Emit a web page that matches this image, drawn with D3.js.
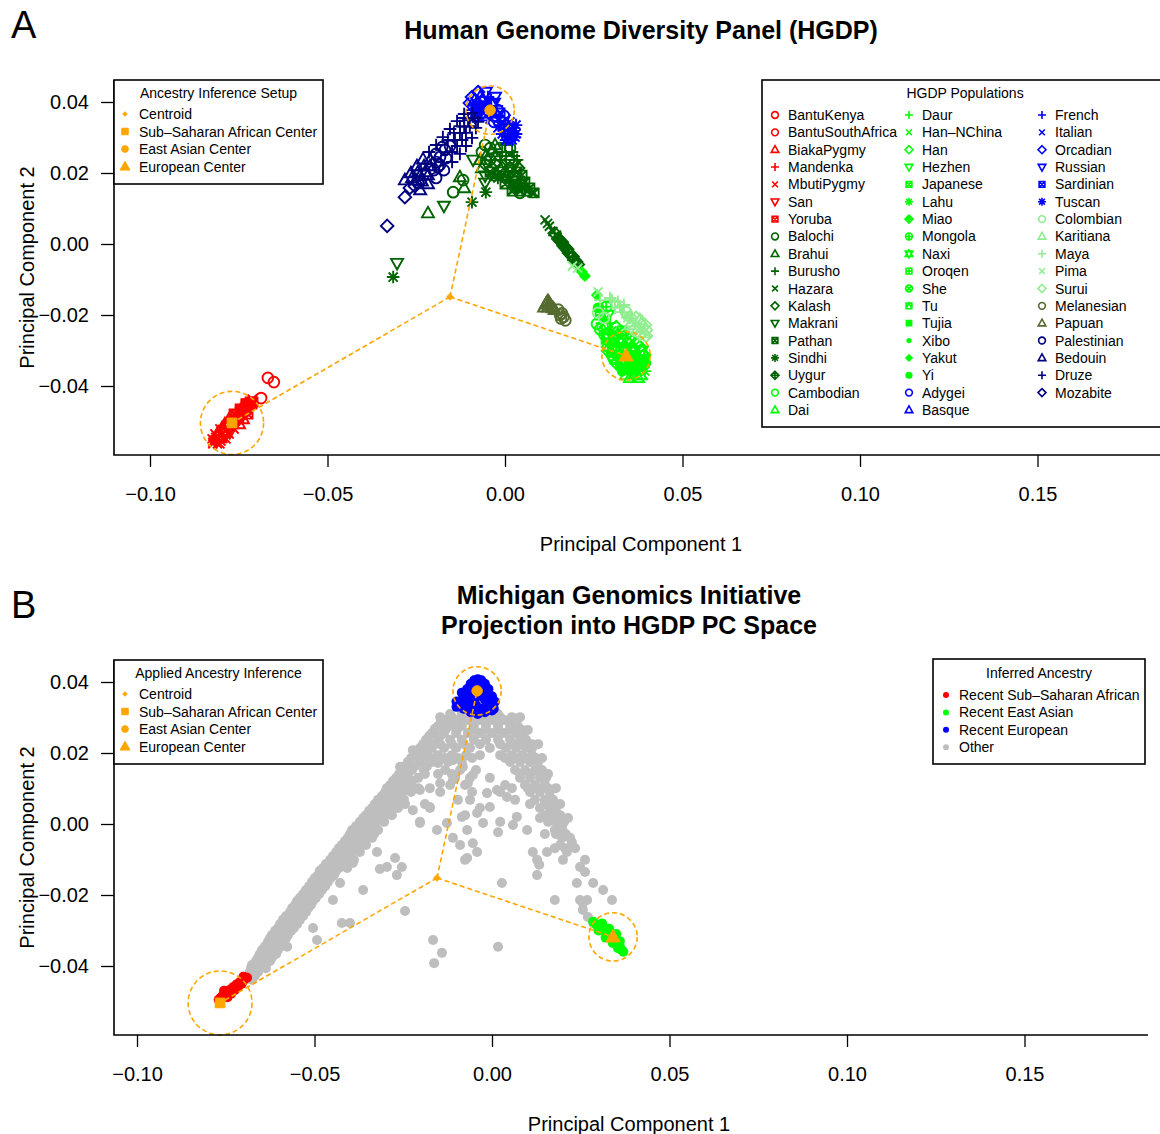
<!DOCTYPE html>
<html><head><meta charset="utf-8">
<script src="https://cdn.jsdelivr.net/npm/d3@7"></script>
<style>body{margin:0;background:#fff}svg{display:block}text{font-family:"Liberation Sans",Arial,Helvetica,sans-serif}</style>
</head><body><svg id="c" width="1160" height="1134"></svg>
<script>
// ---------------- DATA ----------------
const xTicks = [-0.10, -0.05, 0.00, 0.05, 0.10, 0.15];
const yTicks = [-0.04, -0.02, 0.00, 0.02, 0.04];

// HGDP populations (legend order)
const popNames = ["BantuKenya","BantuSouthAfrica","BiakaPygmy","Mandenka","MbutiPygmy","San","Yoruba","Balochi","Brahui","Burusho","Hazara","Kalash","Makrani","Pathan","Sindhi","Uygur","Cambodian","Dai",
"Daur","Han\u2013NChina","Han","Hezhen","Japanese","Lahu","Miao","Mongola","Naxi","Oroqen","She","Tu","Tujia","Xibo","Yakut","Yi","Adygei","Basque",
"French","Italian","Orcadian","Russian","Sardinian","Tuscan","Colombian","Karitiana","Maya","Pima","Surui","Melanesian","Papuan","Palestinian","Bedouin","Druze","Mozabite"];

// PC1, PC2 per population, grouped by region
const africa = {
 "BantuKenya":[[-0.0668,-0.0377],[-0.0651,-0.0389],[-0.0687,-0.0434]],
 "BantuSouthAfrica":[[-0.0752,-0.0490],[-0.0740,-0.0480],[-0.0760,-0.0500],[-0.0730,-0.0470]],
 "BiakaPygmy":[[-0.0797,-0.0518],[-0.0789,-0.0510],[-0.0808,-0.0530],[-0.0780,-0.0505],[-0.0800,-0.0540],[-0.0790,-0.0525],
   [-0.0777,-0.0493],[-0.0758,-0.0493],[-0.0738,-0.0493],[-0.0789,-0.0507],[-0.0769,-0.0507],[-0.0749,-0.0507]],
 "Mandenka":[[-0.0746,-0.0468],[-0.0732,-0.0462],[-0.0738,-0.0475],[-0.0718,-0.0450],[-0.0725,-0.0455],[-0.0745,-0.0480]],
 "MbutiPygmy":[[-0.0817,-0.0552],[-0.0808,-0.0546],[-0.0823,-0.0558],[-0.0810,-0.0563],[-0.0800,-0.0555],[-0.0815,-0.0545],[-0.0795,-0.0548],[-0.0712,-0.0437],
   [-0.0803,-0.0521],[-0.0783,-0.0521],[-0.0763,-0.0521],[-0.0817,-0.0535],[-0.0797,-0.0535],[-0.0777,-0.0535],[-0.0825,-0.0549],[-0.0806,-0.0549],[-0.0786,-0.0549],[-0.0823,-0.0563],[-0.0803,-0.0563]],
 "San":[[-0.0775,-0.0530],[-0.0789,-0.0541],[-0.0785,-0.0535]],
 "Yoruba":[[-0.0746,-0.0473],[-0.0732,-0.0462],[-0.0724,-0.0454],[-0.0758,-0.0482],[-0.0738,-0.0470],[-0.0718,-0.0445],[-0.0710,-0.0445],[-0.0728,-0.0450],[-0.0750,-0.0490],[-0.0762,-0.0495],
   [-0.0730,-0.0451],[-0.0713,-0.0451],[-0.0746,-0.0465],[-0.0727,-0.0465],[-0.0763,-0.0479],[-0.0744,-0.0479],[-0.0724,-0.0479]]
};
const centralSouthAsia = {
 "Balochi":[[-0.0146,0.0146],[-0.0118,0.0180],[0.0042,0.0144],[-0.0056,0.0279],[-0.0065,0.0259],[-0.0042,0.0237],[0.0014,0.0214],[0.0028,0.0192],[-0.0042,0.0270],[-0.0014,0.0270],[0.0014,0.0270]],
 "Brahui":[[-0.0217,0.0087],[-0.0115,0.0158],[-0.0127,0.0189],[-0.0028,0.0279],[-0.0037,0.0259],[-0.0070,0.0237],[-0.0065,0.0214],[-0.0054,0.0248],[-0.0025,0.0248]],
 "Burusho":[[0.0000,0.0279],[-0.0008,0.0259],[0.0020,0.0259],[-0.0014,0.0237],[0.0034,0.0237],[0.0003,0.0248],[0.0025,0.0248]],
 "Hazara":[[0.0113,0.0068],[0.0076,0.0144],[0.0125,0.0050],[0.0135,0.0035],[0.0145,0.0025],[0.0120,0.0058]],
 "Kalash":[[0.0014,0.0237],[-0.0037,0.0214],[-0.0008,0.0214],[0.0037,0.0214],[-0.0056,0.0225],[-0.0028,0.0225]],
 "Makrani":[[-0.0172,0.0107],[-0.0056,0.0172],[-0.0090,0.0237],[-0.0304,-0.0054],[-0.0056,0.0192],[0.0000,0.0192],[0.0000,0.0225],[0.0028,0.0225]],
 "Pathan":[[-0.0028,0.0192],[0.0000,0.0169],[0.0028,0.0169],[0.0048,0.0169],[0.0020,0.0149],[0.0042,0.0149],[0.0062,0.0149],[-0.0042,0.0203],[-0.0014,0.0203],[0.0014,0.0203],[0.0034,0.0203],
   [0.0056,0.0175],[0.0070,0.0158],[0.0082,0.0144],[0.0048,0.0194],[0.0028,0.0158]],
 "Sindhi":[[-0.0093,0.0118],[-0.0054,0.0146],[-0.0020,0.0186],[-0.0315,-0.0093],[0.0010,0.0180],[0.0014,0.0180],[0.0042,0.0180],[0.0037,0.0158],[0.0056,0.0158]],
 "Uygur":[[0.0140,0.0030],[0.0150,0.0015],[0.0160,0.0005],[0.0165,-0.0005],[0.0175,-0.0015],[0.0180,-0.0025],[0.0190,-0.0035],[0.0195,-0.0045],[0.0200,-0.0050],[0.0205,-0.0058],[0.0170,-0.0010],[0.0155,0.0010]]
};
const eastAsia = {
 "Cambodian":[[0.0259,-0.0225],[0.0268,-0.0240],[0.0280,-0.0255],[0.0290,-0.0265],[0.0275,-0.0232]],
 "Dai":[[0.0352,-0.0377],[0.0375,-0.0377],[0.0300,-0.0270],[0.0341,-0.0369],[0.0363,-0.0369],[0.0383,-0.0369]],
 "Daur":[[0.0273,-0.0223],[0.0296,-0.0223],[0.0276,-0.0189]],
 "Han\u2013NChina":[[0.0279,-0.0245],[0.0301,-0.0245],[0.0282,-0.0211]],
 "Han":[[0.0330,-0.0268],[0.0352,-0.0268],[0.0290,-0.0290],[0.0313,-0.0290],[0.0335,-0.0290],[0.0358,-0.0290],[0.0380,-0.0290],
   [0.0285,-0.0234],[0.0313,-0.0234],[0.0290,-0.0256],[0.0318,-0.0256],[0.0341,-0.0256],[0.0296,-0.0279],[0.0324,-0.0279],[0.0346,-0.0279],[0.0369,-0.0279]],
 "Hezhen":[[0.0290,-0.0200]],
 "Japanese":[[0.0285,-0.0268],[0.0307,-0.0268]],
 "Lahu":[[0.0375,-0.0358],[0.0394,-0.0358]],
 "Miao":[[0.0392,-0.0313],[0.0313,-0.0335],[0.0290,-0.0301],[0.0313,-0.0301]],
 "Mongola":[[0.0285,-0.0177]],
 "Naxi":[[0.0335,-0.0335],[0.0358,-0.0335],[0.0341,-0.0301],[0.0363,-0.0301],[0.0386,-0.0301]],
 "Oroqen":[[0.0268,-0.0200]],
 "She":[[0.0301,-0.0313],[0.0324,-0.0313],[0.0307,-0.0324],[0.0330,-0.0324]],
 "Tu":[[0.0330,-0.0245]],
 "Tujia":[[0.0346,-0.0313],[0.0369,-0.0313],[0.0352,-0.0324],[0.0375,-0.0324],[0.0394,-0.0324]],
 "Xibo":[[0.0268,-0.0177]],
 "Yakut":[[0.0217,-0.0079],[0.0225,-0.0090],[0.0259,-0.0144]],
 "Yi":[[0.0380,-0.0335],[0.0397,-0.0335],[0.0330,-0.0358],[0.0352,-0.0358],[0.0324,-0.0346],[0.0346,-0.0346],[0.0369,-0.0346],[0.0389,-0.0346],[0.0262,-0.0180]]
};
const europe = {
 "Adygei":[[-0.0020,0.0377],[-0.0003,0.0361],[-0.0025,0.0361],[-0.0031,0.0344]],
 "Basque":[[-0.0070,0.0414],[-0.0076,0.0397],[-0.0085,0.0406],[-0.0062,0.0406]],
 "French":[[-0.0048,0.0414],[-0.0054,0.0397],[-0.0093,0.0377],[-0.0070,0.0377],[-0.0042,0.0377],[-0.0039,0.0406],[-0.0090,0.0389],[-0.0068,0.0389],[-0.0045,0.0389],[-0.0023,0.0389]],
 "Italian":[[-0.0008,0.0344],[0.0014,0.0344],[-0.0020,0.0327],[0.0003,0.0327],[-0.0042,0.0352],[-0.0020,0.0352],[0.0003,0.0352]],
 "Orcadian":[[-0.0076,0.0428],[-0.0093,0.0414],[-0.0099,0.0397]],
 "Russian":[[-0.0054,0.0428],[-0.0028,0.0414],[-0.0031,0.0397]],
 "Sardinian":[[-0.0082,0.0361],[-0.0054,0.0361],[-0.0082,0.0369],[-0.0059,0.0369],[-0.0037,0.0369],[-0.0014,0.0369]],
 "Tuscan":[[0.0025,0.0327],[-0.0008,0.0310],[0.0014,0.0310],[0.0031,0.0310],[0.0003,0.0293],[0.0020,0.0293],[-0.0014,0.0335],[0.0008,0.0335],[0.0031,0.0335],[-0.0003,0.0318],[0.0020,0.0318],[0.0008,0.0301],[0.0028,0.0301]]
};
const america = {
 "Colombian":[[0.0262,-0.0194],[0.0279,-0.0208],[0.0341,-0.0192]],
 "Karitiana":[[0.0358,-0.0220],[0.0375,-0.0237],[0.0392,-0.0251],[0.0380,-0.0214],[0.0352,-0.0228],[0.0386,-0.0220]],
 "Maya":[[0.0296,-0.0152],[0.0318,-0.0163],[0.0310,-0.0180],[0.0335,-0.0172],[0.0330,-0.0192],[0.0268,-0.0158],[0.0324,-0.0175],[0.0301,-0.0158]],
 "Pima":[[0.0190,-0.0062],[0.0205,-0.0068],[0.0346,-0.0200],[0.0262,-0.0135],[0.0346,-0.0208]],
 "Surui":[[0.0363,-0.0242],[0.0394,-0.0228],[0.0397,-0.0259],[0.0352,-0.0206],[0.0369,-0.0208],[0.0397,-0.0242],[0.0380,-0.0254]]
};
const oceania = {
 "Melanesian":[[0.0150,-0.0185],[0.0160,-0.0195],[0.0165,-0.0205],[0.0158,-0.0210],[0.0170,-0.0215],[0.0155,-0.0200]],
 "Papuan":[[0.0121,-0.0160],[0.0115,-0.0170],[0.0128,-0.0172],[0.0121,-0.0178],[0.0135,-0.0180],[0.0110,-0.0178],[0.0140,-0.0185],[0.0118,-0.0165],[0.0125,-0.0166],[0.0131,-0.0176]]
};
const middleEast = {
 "Palestinian":[[-0.0200,0.0208],[-0.0194,0.0231],[-0.0183,0.0223],[-0.0183,0.0245],[-0.0169,0.0265],[-0.0166,0.0242],[-0.0155,0.0276],[-0.0189,0.0217],[-0.0245,0.0172],
   [-0.0194,0.0254],[-0.0177,0.0273],[-0.0194,0.0186],[-0.0172,0.0208]],
 "Bedouin":[[-0.0251,0.0180],[-0.0239,0.0192],[-0.0234,0.0177],[-0.0225,0.0203],[-0.0217,0.0194],[-0.0211,0.0220],
   [-0.0262,0.0186],[-0.0245,0.0203],[-0.0228,0.0220],[-0.0211,0.0237],[-0.0239,0.0152],[-0.0217,0.0169],
   [-0.0282,0.0180],[-0.0265,0.0200],[-0.0248,0.0220],[-0.0231,0.0239]],
 "Druze":[[-0.0149,0.0259],[-0.0141,0.0293],[-0.0135,0.0276],[-0.0127,0.0313],[-0.0121,0.0293],[-0.0115,0.0330],[-0.0110,0.0313],[-0.0104,0.0349],[-0.0099,0.0332],[-0.0093,0.0369],[-0.0085,0.0355],
   [-0.0161,0.0293],[-0.0144,0.0313],[-0.0127,0.0332],[-0.0115,0.0355],[-0.0149,0.0231],[-0.0127,0.0254],[-0.0110,0.0276],[-0.0093,0.0299],[-0.0082,0.0327],
   [-0.0214,0.0259],[-0.0194,0.0279],[-0.0175,0.0301],[-0.0155,0.0324],[-0.0135,0.0346],[-0.0115,0.0366],[-0.0076,0.0344]],
 "Mozabite":[[-0.0282,0.0132],[-0.0332,0.0051],[-0.0268,0.0158],[-0.0254,0.0163]]
};

// Ancestry reference centers [PC1, PC2] and radii (PC units)
const setupLabels = ["Centroid","Sub\u2013Saharan African Center","East Asian Center","European Center"];
const centersA = [[-0.0155,-0.0149],[-0.0769,-0.0504],[-0.0042,0.0377],[0.0341,-0.0315]];
const radiiA = [0, 0.0089, 0.0068, 0.0068];
const centersB = [[-0.0155,-0.0152],[-0.0766,-0.0504],[-0.0042,0.0375],[0.0341,-0.0318]];
const radiiB = [0, 0.0090, 0.0068, 0.0068];

// Michigan Genomics Initiative projected samples
const inferredLabels = ["Recent Sub\u2013Saharan African","Recent East Asian","Recent European","Other"];
const mgiAfrican = [[-0.0770,-0.0495],[-0.0760,-0.0485],[-0.0750,-0.0478],[-0.0740,-0.0468],[-0.0730,-0.0460],[-0.0720,-0.0452],[-0.0710,-0.0445],[-0.0700,-0.0440],[-0.0690,-0.0433],[-0.0745,-0.0488],[-0.0735,-0.0478],[-0.0725,-0.0468],[-0.0715,-0.0458],[-0.0705,-0.0450],[-0.0755,-0.0470],[-0.0700,-0.0430],[-0.0765,-0.0490]];
const mgiEastAsian = [[0.0285,-0.0275],[0.0295,-0.0285],[0.0305,-0.0290],[0.0315,-0.0300],[0.0325,-0.0305],[0.0335,-0.0315],[0.0345,-0.0325],[0.0350,-0.0335],[0.0360,-0.0345],[0.0365,-0.0355],[0.0370,-0.0360],[0.0300,-0.0300],[0.0320,-0.0320],[0.0340,-0.0335],[0.0355,-0.0350],[0.0310,-0.0280],[0.0330,-0.0295],[0.0350,-0.0310],[0.0360,-0.0330]];
const mgiEuropean = [[-0.0100,0.0330],[-0.0090,0.0345],[-0.0080,0.0360],[-0.0070,0.0380],[-0.0060,0.0395],[-0.0050,0.0405],[-0.0040,0.0408],[-0.0030,0.0405],[-0.0020,0.0395],[-0.0010,0.0380],[0.0000,0.0360],[0.0005,0.0340],[0.0000,0.0320],[-0.0020,0.0315],[-0.0040,0.0310],[-0.0060,0.0315],[-0.0080,0.0325],[-0.0060,0.0350],[-0.0040,0.0360],[-0.0020,0.0350],[-0.0050,0.0380],[-0.0030,0.0385],[-0.0075,0.0345],[-0.0010,0.0335],[-0.0045,0.0335],[-0.0095,0.0335],[0.0005,0.0325],
 [-0.0085,0.0370],[-0.0065,0.0365],[-0.0025,0.0370],[-0.0010,0.0355],[-0.0035,0.0395],[-0.0055,0.0395],[-0.0100,0.0345],[0.0008,0.0345],[-0.0070,0.0330],[-0.0030,0.0325],[-0.0015,0.0325],[-0.0050,0.0322]];
const mgiOther = [
[-0.0696,-0.0439],[-0.0676,-0.0439],[-0.0682,-0.0417],[-0.0659,-0.0417],[-0.0676,-0.0397],[-0.0654,-0.0397],[-0.0637,-0.0397],
[-0.0659,-0.0377],[-0.0637,-0.0377],[-0.0620,-0.0377],[-0.0648,-0.0355],[-0.0625,-0.0355],[-0.0603,-0.0355],
[-0.0631,-0.0332],[-0.0608,-0.0332],[-0.0586,-0.0332],[-0.0620,-0.0313],[-0.0597,-0.0313],[-0.0575,-0.0313],
[-0.0603,-0.0293],[-0.0580,-0.0293],[-0.0558,-0.0293],[-0.0589,-0.0270],[-0.0563,-0.0270],[-0.0541,-0.0270],
[-0.0569,-0.0248],[-0.0546,-0.0248],[-0.0524,-0.0248],[-0.0555,-0.0228],[-0.0532,-0.0228],[-0.0510,-0.0228],
[-0.0541,-0.0208],[-0.0518,-0.0208],[-0.0496,-0.0208],[-0.0524,-0.0186],[-0.0501,-0.0186],[-0.0479,-0.0186],
[-0.0507,-0.0163],[-0.0485,-0.0163],[-0.0462,-0.0163],[-0.0490,-0.0144],[-0.0468,-0.0144],[-0.0445,-0.0144],
[-0.0476,-0.0124],[-0.0454,-0.0124],[-0.0431,-0.0124],[-0.0456,-0.0101],[-0.0434,-0.0101],[-0.0411,-0.0101],
[-0.0439,-0.0079],[-0.0417,-0.0079],[-0.0394,-0.0079],[-0.0423,-0.0059],[-0.0400,-0.0059],[-0.0377,-0.0059],
[-0.0406,-0.0039],[-0.0383,-0.0039],[-0.0361,-0.0039],[-0.0338,-0.0039],[-0.0394,-0.0017],[-0.0372,-0.0017],[-0.0349,-0.0017],[-0.0321,-0.0017],
[-0.0372,0.0006],[-0.0349,0.0006],[-0.0327,0.0006],[-0.0355,0.0025],[-0.0332,0.0025],[-0.0304,0.0025],
[-0.0338,0.0045],[-0.0316,0.0045],[-0.0287,0.0045],[-0.0321,0.0068],[-0.0299,0.0068],[-0.0270,0.0068],
[-0.0301,0.0090],[-0.0279,0.0090],[-0.0251,0.0090],[-0.0287,0.0110],[-0.0259,0.0110],[-0.0231,0.0110],
[-0.0270,0.0130],[-0.0242,0.0130],[-0.0208,0.0130],[-0.0254,0.0152],[-0.0225,0.0152],[-0.0192,0.0152],
[-0.0237,0.0175],[-0.0203,0.0175],[-0.0169,0.0175],[-0.0217,0.0194],[-0.0186,0.0194],[-0.0152,0.0194],
[-0.0203,0.0214],[-0.0169,0.0214],[-0.0135,0.0214],[-0.0186,0.0237],[-0.0152,0.0237],[-0.0118,0.0237],
[-0.0169,0.0256],[-0.0135,0.0256],[-0.0101,0.0256],[-0.0152,0.0276],[-0.0118,0.0276],[-0.0085,0.0276],
[-0.0135,0.0293],[-0.0101,0.0293],[-0.0068,0.0293],[-0.0118,0.0310],[-0.0085,0.0310],
[-0.0687,-0.0428],[-0.0668,-0.0428],[-0.0679,-0.0406],[-0.0656,-0.0406],[-0.0637,-0.0406],[-0.0665,-0.0386],[-0.0645,-0.0386],[-0.0625,-0.0386],
[-0.0654,-0.0366],[-0.0631,-0.0366],[-0.0608,-0.0366],[-0.0639,-0.0344],[-0.0617,-0.0344],[-0.0594,-0.0344],[-0.0625,-0.0321],[-0.0603,-0.0321],[-0.0580,-0.0321],
[-0.0611,-0.0301],[-0.0589,-0.0301],[-0.0566,-0.0301],[-0.0597,-0.0282],[-0.0572,-0.0282],[-0.0549,-0.0282],[-0.0580,-0.0259],[-0.0558,-0.0259],[-0.0532,-0.0259],
[-0.0563,-0.0237],[-0.0541,-0.0237],[-0.0518,-0.0237],[-0.0549,-0.0217],[-0.0527,-0.0217],[-0.0504,-0.0217],[-0.0532,-0.0197],[-0.0510,-0.0197],[-0.0487,-0.0197],
[-0.0515,-0.0175],[-0.0493,-0.0175],[-0.0470,-0.0175],[-0.0499,-0.0152],[-0.0476,-0.0152],[-0.0454,-0.0152],[-0.0485,-0.0132],[-0.0462,-0.0132],[-0.0439,-0.0132],
[-0.0468,-0.0113],[-0.0445,-0.0113],[-0.0423,-0.0113],[-0.0448,-0.0090],[-0.0425,-0.0090],[-0.0403,-0.0090],[-0.0431,-0.0068],[-0.0408,-0.0068],[-0.0386,-0.0068],
[-0.0414,-0.0048],[-0.0392,-0.0048],[-0.0369,-0.0048],[-0.0400,-0.0028],[-0.0377,-0.0028],[-0.0355,-0.0028],[-0.0332,-0.0028],
[-0.0383,-0.0006],[-0.0361,-0.0006],[-0.0338,-0.0006],[-0.0363,0.0017],[-0.0341,0.0017],[-0.0316,0.0017],[-0.0346,0.0037],[-0.0324,0.0037],[-0.0299,0.0037],
[-0.0330,0.0056],[-0.0307,0.0056],[-0.0282,0.0056],[-0.0310,0.0079],[-0.0287,0.0079],[-0.0262,0.0079],[-0.0296,0.0101],[-0.0270,0.0101],[-0.0245,0.0101],
[-0.0279,0.0121],[-0.0254,0.0121],[-0.0225,0.0121],[-0.0262,0.0141],[-0.0237,0.0141],[-0.0245,0.0163],[-0.0217,0.0163],[-0.0183,0.0163],
[-0.0228,0.0186],[-0.0200,0.0186],[-0.0211,0.0206],[-0.0180,0.0206],[-0.0194,0.0225],[-0.0169,0.0225],[-0.0177,0.0248],[-0.0146,0.0248],
[-0.0161,0.0268],[-0.0130,0.0268],[-0.0144,0.0287],[-0.0113,0.0287],[-0.0085,0.0287],
[-0.0408,-0.0124],[-0.0389,-0.0101],[-0.0372,-0.0079],[-0.0355,-0.0059],[-0.0304,0.0006],[-0.0282,0.0025],[-0.0265,0.0045],[-0.0248,0.0068],[-0.0228,0.0090],
[-0.0051,0.0310],[-0.0017,0.0310],[0.0017,0.0310],
[-0.0034,0.0293],[0.0000,0.0293],[0.0034,0.0293],[0.0056,0.0293],
[-0.0051,0.0276],[-0.0017,0.0276],[0.0017,0.0276],[0.0051,0.0276],[0.0073,0.0276],
[-0.0068,0.0256],[-0.0034,0.0256],[0.0000,0.0256],[0.0034,0.0256],[0.0068,0.0256],[0.0085,0.0256],
[-0.0085,0.0237],[-0.0051,0.0237],[-0.0017,0.0237],[0.0017,0.0237],[0.0051,0.0237],[0.0079,0.0237],[0.0096,0.0237],
[-0.0101,0.0214],[-0.0062,0.0214],[-0.0006,0.0214],[0.0039,0.0214],[0.0068,0.0214],[0.0096,0.0214],[0.0113,0.0214],
[-0.0113,0.0194],[-0.0073,0.0194],[-0.0034,0.0194],[0.0023,0.0194],[0.0056,0.0194],[0.0085,0.0194],[0.0113,0.0194],
[-0.0124,0.0175],[-0.0085,0.0175],[0.0051,0.0175],[0.0079,0.0175],[0.0107,0.0175],[0.0130,0.0175],
[-0.0132,0.0152],[-0.0090,0.0152],[-0.0045,0.0152],[0.0065,0.0152],[0.0093,0.0152],[0.0121,0.0152],[0.0141,0.0152],
[-0.0104,0.0130],[-0.0062,0.0130],[-0.0006,0.0130],[0.0079,0.0130],[0.0107,0.0130],[0.0135,0.0130],[0.0152,0.0130],
[-0.0118,0.0110],[-0.0076,0.0110],[0.0037,0.0110],[0.0093,0.0110],[0.0121,0.0110],[0.0149,0.0110],
[-0.0146,0.0090],[-0.0056,0.0090],[0.0023,0.0090],[0.0107,0.0090],[0.0135,0.0090],[0.0163,0.0090],
[-0.0096,0.0068],[0.0065,0.0068],[0.0121,0.0068],[0.0149,0.0068],[0.0172,0.0068],
[-0.0175,0.0045],[-0.0034,0.0045],[0.0135,0.0045],[0.0163,0.0045],[0.0180,0.0045],
[-0.0076,0.0025],[0.0149,0.0025],[0.0172,0.0025],[0.0192,0.0025],
[-0.0203,0.0006],[0.0023,0.0006],[0.0158,0.0006],[0.0180,0.0006],[0.0203,0.0006],
[-0.0155,-0.0017],[-0.0070,-0.0017],[0.0099,-0.0017],[0.0177,-0.0017],[0.0197,-0.0017],
[-0.0110,-0.0039],[0.0197,-0.0039],[0.0220,-0.0039],[-0.0090,-0.0059],[0.0192,-0.0059],[0.0225,-0.0059],
[-0.0146,0.0301],[-0.0113,0.0301],[-0.0079,0.0301],[-0.0045,0.0301],[-0.0011,0.0301],[0.0023,0.0301],[0.0056,0.0301],[0.0079,0.0301],
[-0.0132,0.0265],[-0.0099,0.0265],[-0.0051,0.0265],[-0.0017,0.0265],[0.0017,0.0265],[0.0051,0.0265],[0.0085,0.0265],[0.0101,0.0265],
[-0.0146,0.0225],[-0.0113,0.0225],[-0.0079,0.0225],[-0.0034,0.0225],[0.0023,0.0225],[0.0056,0.0225],[0.0085,0.0225],[0.0113,0.0225],[0.0130,0.0225],
[-0.0161,0.0186],[-0.0132,0.0186],[-0.0096,0.0186],[-0.0056,0.0186],[0.0037,0.0186],[0.0068,0.0186],[0.0096,0.0186],[0.0124,0.0186],[0.0141,0.0186],
[-0.0189,0.0141],[-0.0152,0.0141],[-0.0113,0.0141],[0.0079,0.0141],[0.0107,0.0141],[0.0135,0.0141],[0.0158,0.0141],
[-0.0208,0.0101],[-0.0175,0.0101],[0.0056,0.0101],[0.0101,0.0101],[0.0130,0.0101],[0.0158,0.0101],[0.0180,0.0101],
[-0.0245,0.0056],[-0.0189,0.0056],[0.0107,0.0056],[0.0149,0.0056],[0.0169,0.0056],[0.0192,0.0056],
[0.0135,0.0017],[0.0163,0.0017],[0.0192,0.0017],[0.0214,0.0017],
[0.0149,-0.0028],[0.0180,-0.0028],[0.0208,-0.0028],[0.0177,-0.0068],[0.0206,-0.0068],[0.0234,-0.0068],
[-0.0042,-0.0079],[0.0115,-0.0079],[0.0155,-0.0079],[0.0211,-0.0079],
[-0.0076,-0.0101],[0.0127,-0.0101],[0.0200,-0.0101],[0.0262,-0.0101],
[-0.0296,-0.0121],[-0.0254,-0.0121],[0.0248,-0.0121],[-0.0268,-0.0144],[0.0127,-0.0144],
[-0.0428,-0.0166],[0.0028,-0.0166],[0.0239,-0.0166],[0.0285,-0.0166],[-0.0363,-0.0186],[0.0313,-0.0186],
[-0.0448,-0.0214],[0.0177,-0.0214],[0.0248,-0.0214],[0.0268,-0.0214],[0.0338,-0.0214],
[0.0256,-0.0242],[-0.0245,-0.0245],[0.0270,-0.0262],[0.0285,-0.0279],[-0.0423,-0.0279],[-0.0400,-0.0279],
[-0.0504,-0.0293],[-0.0493,-0.0327],[-0.0166,-0.0327],[-0.0577,-0.0346],[0.0017,-0.0346],[-0.0141,-0.0363],[-0.0163,-0.0392],
[-0.0259,0.0161],[-0.0223,0.0208],[-0.0175,0.0180],[-0.0152,0.0172],[-0.0110,0.0180],[-0.0082,0.0161],[-0.0068,0.0115],
[-0.0054,0.0138],[-0.0014,0.0087],[-0.0006,0.0048],[-0.0062,0.0068],[-0.0110,0.0124],[-0.0146,0.0115],[-0.0203,0.0096],
[-0.0175,0.0048],[-0.0223,0.0039],[-0.0265,0.0096],[-0.0085,0.0020],[-0.0042,0.0031],[-0.0127,0.0003],[0.0014,0.0096],
[0.0070,0.0020],[0.0042,0.0076],
[-0.0392,-0.0110],[-0.0324,-0.0079],[-0.0316,-0.0127],[-0.0273,-0.0096],[-0.0203,0.0003],[-0.0054,-0.0054],
[-0.0070,-0.0096],[-0.0025,0.0003],[0.0017,-0.0023],[0.0059,-0.0003],[0.0133,-0.0115],[0.0225,-0.0051],[0.0197,-0.0008],
[0.0256,-0.0223],[0.0262,-0.0135]
];

// ---------------- DRAWING ----------------
const COL = {africa:"#FF0000", csa:"#006400", ea:"#00FF00", eu:"#0000FF", am:"#90EE90", oc:"#556B2F", me:"#000080"};
const ORANGE = "#FFA500";
const regionList = [[africa,COL.africa],[centralSouthAsia,COL.csa],[eastAsia,COL.ea],[europe,COL.eu],[america,COL.am],[oceania,COL.oc],[middleEast,COL.me]];
const popShape = {
 "BantuKenya":"circle","BantuSouthAfrica":"circle","BiakaPygmy":"tri","Mandenka":"plus","MbutiPygmy":"cross","San":"tridown","Yoruba":"sqx",
 "Balochi":"circle","Brahui":"tri","Burusho":"plus","Hazara":"cross","Kalash":"diamond","Makrani":"tridown","Pathan":"sqx","Sindhi":"ast","Uygur":"diamplus",
 "Cambodian":"circle","Dai":"tri","Daur":"plus","Han\u2013NChina":"cross","Han":"diamond","Hezhen":"tridown","Japanese":"sqx","Lahu":"ast","Miao":"diamplus",
 "Mongola":"circplus","Naxi":"star","Oroqen":"sqplus","She":"circx","Tu":"sqtri","Tujia":"fsquare","Xibo":"fdot","Yakut":"fdiamond","Yi":"fcircle",
 "Adygei":"circle","Basque":"tri","French":"plus","Italian":"cross","Orcadian":"diamond","Russian":"tridown","Sardinian":"sqx","Tuscan":"ast",
 "Colombian":"circle","Karitiana":"tri","Maya":"plus","Pima":"cross","Surui":"diamond","Melanesian":"circle","Papuan":"tri",
 "Palestinian":"circle","Bedouin":"tri","Druze":"plus","Mozabite":"diamond"};
const popColor = {};
regionList.forEach(([obj,c]) => Object.keys(obj).forEach(k => popColor[k] = c));

function sym(t, s){
  const r=s*0.85, a=s*0.72;
  const C=(r)=>`M${r},0A${r},${r} 0 1,1 ${-r},0A${r},${r} 0 1,1 ${r},0Z`;
  const T=`M0,${-s}L${s*0.95},${s*0.68}L${-s*0.95},${s*0.68}Z`;
  const TD=`M0,${s}L${s*0.95},${-s*0.68}L${-s*0.95},${-s*0.68}Z`;
  const P=(k)=>`M${-k},0H${k}M0,${-k}V${k}`;
  const X=(k)=>`M${-k},${-k}L${k},${k}M${-k},${k}L${k},${-k}`;
  const D=(k)=>`M0,${-k}L${k},0L0,${k}L${-k},0Z`;
  const S=(k)=>`M${-k},${-k}H${k}V${k}H${-k}Z`;
  switch(t){
    case 'circle': return [C(r),false];
    case 'tri': return [T,false];
    case 'tridown': return [TD,false];
    case 'plus': return [P(s),false];
    case 'cross': return [X(a),false];
    case 'diamond': return [D(s),false];
    case 'sqx': return [S(a)+X(a),false];
    case 'ast': return [P(s)+X(a),false];
    case 'diamplus': return [D(s)+P(s),false];
    case 'circplus': return [C(r)+P(r),false];
    case 'star': return [T+TD,false];
    case 'sqplus': return [S(a)+P(a),false];
    case 'circx': return [C(r)+X(r*0.707),false];
    case 'sqtri': return [S(a)+`M${-a},${a}L0,${-a}L${a},${a}`,false];
    case 'fsquare': return [S(a*0.9),true];
    case 'fdot': return [C(s*0.45),true];
    case 'fdiamond': return [D(s*0.75),true];
    case 'fcircle': return [C(s*0.7),true];
    case 'ftri': return [T,true];
  }
}
function drawSym(g, t, x, y, s, color, sw){
  const [d, filled] = sym(t, s);
  g.append("path").attr("d", d).attr("transform", `translate(${x},${y})`)
    .attr("fill", filled ? color : "none").attr("stroke", color).attr("stroke-width", sw || 1.5);
}

const svg = d3.select("#c");
const fmt = d3.format(".2f");

function makePanel(P){
  const x = d3.scaleLinear().domain([-0.10, 0.15]).range([P.x0, P.x1]);
  const y = d3.scaleLinear().domain([-0.04, 0.04]).range([P.y0, P.y1]);
  const g = svg.append("g");
  return {g, x, y};
}
function drawAxes(g, P, x, y){
  const ax = g.append("g").attr("transform", `translate(0,${P.bottom})`)
    .call(d3.axisBottom(x).tickValues(xTicks).tickFormat(fmt).tickSize(12).tickPadding(20));
  ax.select(".domain").remove();
  ax.selectAll("line").attr("stroke-width", 1.3);
  ax.selectAll("text").attr("font-size", 20).attr("font-family", '"Liberation Sans",Arial,sans-serif');
  const ay = g.append("g").attr("transform", `translate(${P.left},0)`)
    .call(d3.axisLeft(y).tickValues(yTicks).tickFormat(fmt).tickSize(13).tickPadding(12));
  ay.select(".domain").remove();
  ay.selectAll("line").attr("stroke-width", 1.3);
  ay.selectAll("text").attr("font-size", 20).attr("font-family", '"Liberation Sans",Arial,sans-serif');
  g.append("path").attr("d", `M${P.left},${P.top}V${P.bottom}H${P.right}`)
    .attr("fill","none").attr("stroke","#000").attr("stroke-width",1.6);
  g.append("text").attr("x", P.xlabX).attr("y", P.xlabY).attr("text-anchor","middle").attr("font-size",20).text("Principal Component 1");
  g.append("text").attr("transform", `translate(34,${(P.top+P.bottom)/2}) rotate(-90)`).attr("text-anchor","middle").attr("font-size",20).text("Principal Component 2");
}
function drawCenters(g, x, y, centers, radii){
  const c0 = centers[0];
  const dash = "5,3";
  for (let i=1;i<4;i++){
    g.append("line").attr("x1", x(c0[0])).attr("y1", y(c0[1])).attr("x2", x(centers[i][0])).attr("y2", y(centers[i][1]))
      .attr("stroke", ORANGE).attr("stroke-width", 1.6).attr("stroke-dasharray", dash);
    const r = x(radii[i]) - x(0);
    g.append("circle").attr("cx", x(centers[i][0])).attr("cy", y(centers[i][1])).attr("r", r)
      .attr("fill","none").attr("stroke", ORANGE).attr("stroke-width", 1.6).attr("stroke-dasharray", dash);
  }
  const shapes = ["fdiamond","fsquare","fcircle","ftri"];
  const sizes = [4.5, 7.5, 7.5, 7.5];
  centers.forEach((c,i) => drawSym(g, shapes[i], x(c[0]), y(c[1]), sizes[i], ORANGE, 1));
}
function legendSetup(g, L, title){
  g.append("rect").attr("x", L.x).attr("y", L.y).attr("width", L.w).attr("height", L.h)
    .attr("fill","#fff").attr("stroke","#000").attr("stroke-width",1.6);
  g.append("text").attr("x", L.x + L.w/2).attr("y", L.y + 18).attr("text-anchor","middle").attr("font-size",14).text(title);
  const shapes = ["fdiamond","fsquare","fcircle","ftri"];
  const sizes = [3, 5, 4.8, 5.2];
  setupLabels.forEach((lab,i) => {
    const yy = L.y + 34 + i*17.5;
    drawSym(g, shapes[i], L.x + 11, yy, sizes[i], ORANGE, 1);
    g.append("text").attr("x", L.x + 25).attr("y", yy + 5).attr("font-size",14).text(lab);
  });
}

// -------- Panel A --------
const PA = {left:114, right:1160, top:80, bottom:455, x0:150, x1:1037.5, y0:386, y1:102, xlabX:641, xlabY:551};
const A = makePanel(PA);
regionList.forEach(([obj,c]) => {
  Object.entries(obj).forEach(([name, pts]) => {
    pts.forEach(p => drawSym(A.g, popShape[name], A.x(p[0]), A.y(p[1]), 6.3, c, 1.9));
  });
});
drawCenters(A.g, A.x, A.y, centersA, radiiA);
drawAxes(A.g, PA, A.x, A.y);
legendSetup(A.g, {x:114, y:80, w:209, h:104}, "Ancestry Inference Setup");
// HGDP legend
A.g.append("rect").attr("x", 762).attr("y", 80).attr("width", 420).attr("height", 347)
  .attr("fill","#fff").attr("stroke","#000").attr("stroke-width",1.6);
A.g.append("text").attr("x", 965).attr("y", 98).attr("text-anchor","middle").attr("font-size",14).text("HGDP Populations");
const colX = [775, 909, 1042];
popNames.forEach((n,i) => {
  const col = Math.floor(i/18), row = i % 18;
  const yy = 115 + row*17.35;
  drawSym(A.g, popShape[n], colX[col], yy, 4, popColor[n], 1.6);
  A.g.append("text").attr("x", colX[col] + 13).attr("y", yy + 5).attr("font-size",14).text(n);
});
svg.append("text").attr("x", 641).attr("y", 39).attr("text-anchor","middle").attr("font-size",25).attr("font-weight","bold").text("Human Genome Diversity Panel (HGDP)");
svg.append("text").attr("x", 11).attr("y", 38).attr("font-size",38).text("A");

// -------- Panel B --------
const PB = {left:114, right:1148, top:660, bottom:1035, x0:137, x1:1024.5, y0:966, y1:682, xlabX:629, xlabY:1131};
const B = makePanel(PB);
const dotR = 5;
[[mgiOther,"#BEBEBE"],[mgiAfrican,"#FF0000"],[mgiEastAsian,"#00FF00"],[mgiEuropean,"#0000FF"]].forEach(([pts,c]) => {
  B.g.append("g").selectAll("circle").data(pts).join("circle")
    .attr("cx", d => B.x(d[0])).attr("cy", d => B.y(d[1])).attr("r", dotR).attr("fill", c);
});
drawCenters(B.g, B.x, B.y, centersB, radiiB);
drawAxes(B.g, PB, B.x, B.y);
legendSetup(B.g, {x:114, y:660, w:209, h:104}, "Applied Ancestry Inference");
B.g.append("rect").attr("x", 933).attr("y", 659).attr("width", 212).attr("height", 105)
  .attr("fill","#fff").attr("stroke","#000").attr("stroke-width",1.6);
B.g.append("text").attr("x", 1039).attr("y", 678).attr("text-anchor","middle").attr("font-size",14).text("Inferred Ancestry");
const infCols = ["#FF0000","#00FF00","#0000FF","#BEBEBE"];
inferredLabels.forEach((lab,i) => {
  const yy = 695 + i*17.4;
  B.g.append("circle").attr("cx", 946).attr("cy", yy).attr("r", 3).attr("fill", infCols[i]);
  B.g.append("text").attr("x", 959).attr("y", yy + 5).attr("font-size",14).text(lab);
});
svg.append("text").attr("x", 629).attr("y", 604).attr("text-anchor","middle").attr("font-size",25).attr("font-weight","bold").text("Michigan Genomics Initiative");
svg.append("text").attr("x", 629).attr("y", 634).attr("text-anchor","middle").attr("font-size",25).attr("font-weight","bold").text("Projection into HGDP PC Space");
svg.append("text").attr("x", 11).attr("y", 618).attr("font-size",38).text("B");
</script></body></html>
